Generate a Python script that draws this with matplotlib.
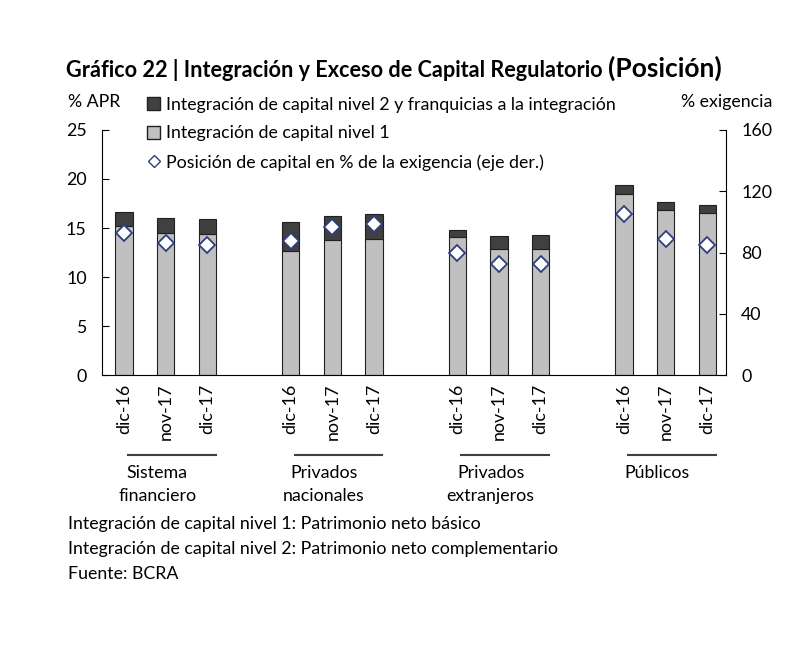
import matplotlib.pyplot as plt
import numpy as np
from matplotlib.lines import Line2D
from matplotlib.patches import Patch

plt.rcParams['font.family'] = ['Lato', 'DejaVu Sans']

# datos
grupos = ['Sistema\nfinanciero', 'Privados\nnacionales', 'Privados\nextranjeros', 'Públicos']
periodos = ['dic-16', 'nov-17', 'dic-17']
nivel1 = [15.2, 14.5, 14.4, 12.7, 13.8, 13.9, 14.1, 12.9, 12.9, 18.5, 16.8, 16.5]
total = [16.6, 16.0, 15.9, 15.6, 16.2, 16.4, 14.8, 14.2, 14.3, 19.4, 17.7, 17.3]
posicion = [92.5, 86, 84.7, 87.7, 96.9, 98.4, 79.5, 72.5, 72.5, 105, 88.6, 84.7]

nivel2 = [t - n for t, n in zip(total, nivel1)]

x = []
for g in range(len(grupos)):
    for p in range(len(periodos)):
        x.append(g * 4 + p)
x = np.array(x)

fs = 12.8

fig = plt.figure(figsize=(8, 6.68), dpi=100)
ax = fig.add_axes([0.1275, 0.4386, 0.78, 0.3668])
ax2 = ax.twinx()

ax.bar(x, nivel1, width=0.42, color='#c0c0c0', edgecolor='#202020', linewidth=0.8, zorder=2)
ax.bar(x, nivel2, bottom=nivel1, width=0.42, color='#404040', edgecolor='#202020', linewidth=0.8, zorder=2)
ax2.plot(x, posicion, linestyle='none', marker='D', markersize=8.5,
         markerfacecolor='white', markeredgecolor='#2e3f7f', markeredgewidth=1.3, zorder=3)

ax.set_xlim(-0.53, 14.45)
ax.set_ylim(0, 25)
ax2.set_ylim(0, 160)
ax.set_yticks([0, 5, 10, 15, 20, 25])
ax2.set_yticks([0, 40, 80, 120, 160])

for a in (ax, ax2):
    a.spines['top'].set_visible(False)
    a.tick_params(axis='y', direction='in', length=5, labelsize=fs, pad=11)
ax2.spines['left'].set_visible(False)
ax.spines['right'].set_visible(False)
ax2.spines['bottom'].set_visible(False)

ax.set_xticks(x)
ax.set_xticklabels(periodos * len(grupos), rotation=90, fontsize=fs)
ax.tick_params(axis='x', length=0, pad=6)

# lineas y nombres de grupos
for g, nombre in enumerate(grupos):
    x0 = g * 4
    ax.plot([x0 + 0.1, x0 + 2.2], [-8.2, -8.2], color='#404040', linewidth=1.5, clip_on=False)
    ax.text(x0 + 0.8, -9.2, nombre, ha='center', va='top', fontsize=fs, linespacing=1.55)

handles = [
    Patch(facecolor='#404040', edgecolor='#202020', label='Integración de capital nivel 2 y franquicias a la integración'),
    Patch(facecolor='#c0c0c0', edgecolor='#202020', label='Integración de capital nivel 1'),
    Line2D([], [], linestyle='none', marker='D', markersize=6.5, markerfacecolor='white',
           markeredgecolor='#2e3f7f', label='Posición de capital en % de la exigencia (eje der.)'),
]
fig.legend(handles=handles, loc='upper left', bbox_to_anchor=(0.175, 0.866), frameon=False,
           fontsize=fs, handlelength=0.75, handleheight=0.75, handletextpad=0.3, labelspacing=0.72,
           borderaxespad=0)

fig.text(0.085, 0.848, '% APR', fontsize=fs, va='center')
fig.text(0.965, 0.848, '% exigencia', fontsize=fs, va='center', ha='right')

# titulo
t1 = fig.text(0.083, 0.885, 'Gráfico 22 | Integración y Exceso de Capital Regulatorio ',
              fontsize=15.6, fontweight='bold', va='baseline')
fig.canvas.draw()
bb = t1.get_window_extent()
fig.text(bb.x1 / fig.bbox.width, 0.885, '(Posición)', fontsize=19, fontweight='bold', va='baseline')

notas = ['Integración de capital nivel 1: Patrimonio neto básico',
         'Integración de capital nivel 2: Patrimonio neto complementario',
         'Fuente: BCRA']
for i, n in enumerate(notas):
    fig.text(0.085, 0.215 - i * 0.0375, n, fontsize=fs, va='center')

fig.savefig('out.png', dpi=100)
